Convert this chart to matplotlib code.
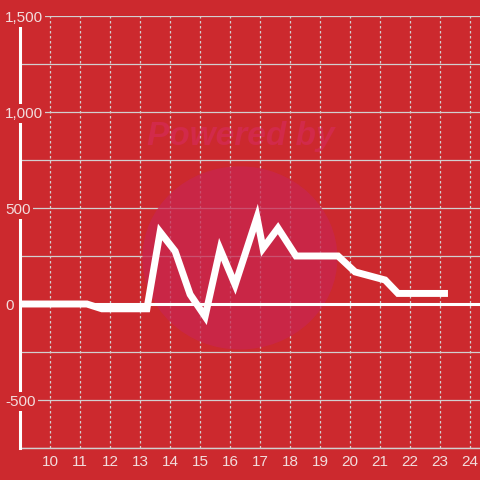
import matplotlib

matplotlib.use("Agg")
import matplotlib.pyplot as plt
from matplotlib.patches import Circle
from matplotlib.transforms import blended_transform_factory

BG = "#cc292e"
GRID = "#d2cfcf"
LABEL = "#f2dcdc"

# series (hour of day, value)
hours = [9.0, 11.23, 11.73, 13.23, 13.67, 14.17, 14.67, 15.17, 15.67, 16.17,
         16.9, 17.1, 17.6, 18.2, 19.6, 20.17, 21.17, 21.6, 23.15]
values = [0, 0, -25, -25, 375, 275, 50, -65, 285, 100,
          450, 290, 395, 250, 250, 167, 125, 55, 55]

x_ticks = list(range(10, 25))
y_ticks = [-500, 0, 500, 1000, 1500]
y_grid = [-750, -500, -250, 0, 250, 500, 750, 1000, 1250, 1500]
y_labels = ["-500", "0", "500", "1,000", "1,500"]

plt.rcParams["font.family"] = ["Liberation Sans", "DejaVu Sans"]
fig = plt.figure(figsize=(4.8, 4.8), dpi=100, facecolor=BG)
ax = fig.add_axes([20 / 480, 32 / 480, 460 / 480, 432 / 480], facecolor=BG)
ax.set_xlim(9, 9 + 460 / 30)
ax.set_ylim(-750, 1500)

for y in y_grid:
    ax.axhline(y, color=GRID, lw=0.9, zorder=1)
for x in x_ticks:
    ax.axvline(x, color=GRID, lw=0.9, ls=(0, (2, 2)), zorder=1)

# watermark
ax.text(241 / 480, 1 - 145 / 480, "Powered by", transform=fig.transFigure,
        color="#d22a4a", fontsize=24, fontweight="bold", fontstyle="italic",
        ha="center", va="baseline", zorder=0.5)
ax.add_patch(Circle((0.478, 0.44), 0.212, transform=ax.transAxes,
                    facecolor="#c8264f", alpha=0.75, lw=0, zorder=2))

ax.axhline(0, color="white", lw=2.2, zorder=3)
ax.plot(hours, values, color="white", lw=5, zorder=4, solid_joinstyle="miter")

for s in ("top", "right"):
    ax.spines[s].set_visible(False)
ax.spines["bottom"].set_color(GRID)
ax.spines["bottom"].set_linewidth(1)
ax.spines["left"].set_color("white")
ax.spines["left"].set_linewidth(2.2)
ax.spines["left"].set_zorder(5)

ax.set_xticks(x_ticks)
ax.tick_params(axis="x", length=0, pad=5, labelsize=11, labelcolor=LABEL)
ax.set_yticks([])

trans = blended_transform_factory(fig.transFigure, ax.transData)
for y, lab in zip(y_ticks, y_labels):
    ax.text(5 / 480, y - 8, lab, transform=trans, ha="left", va="center",
            fontsize=11, color=LABEL, zorder=6, clip_on=False,
            bbox=dict(facecolor=BG, edgecolor="none", pad=1.5))

fig.savefig("out.png", dpi=100, facecolor=BG)
